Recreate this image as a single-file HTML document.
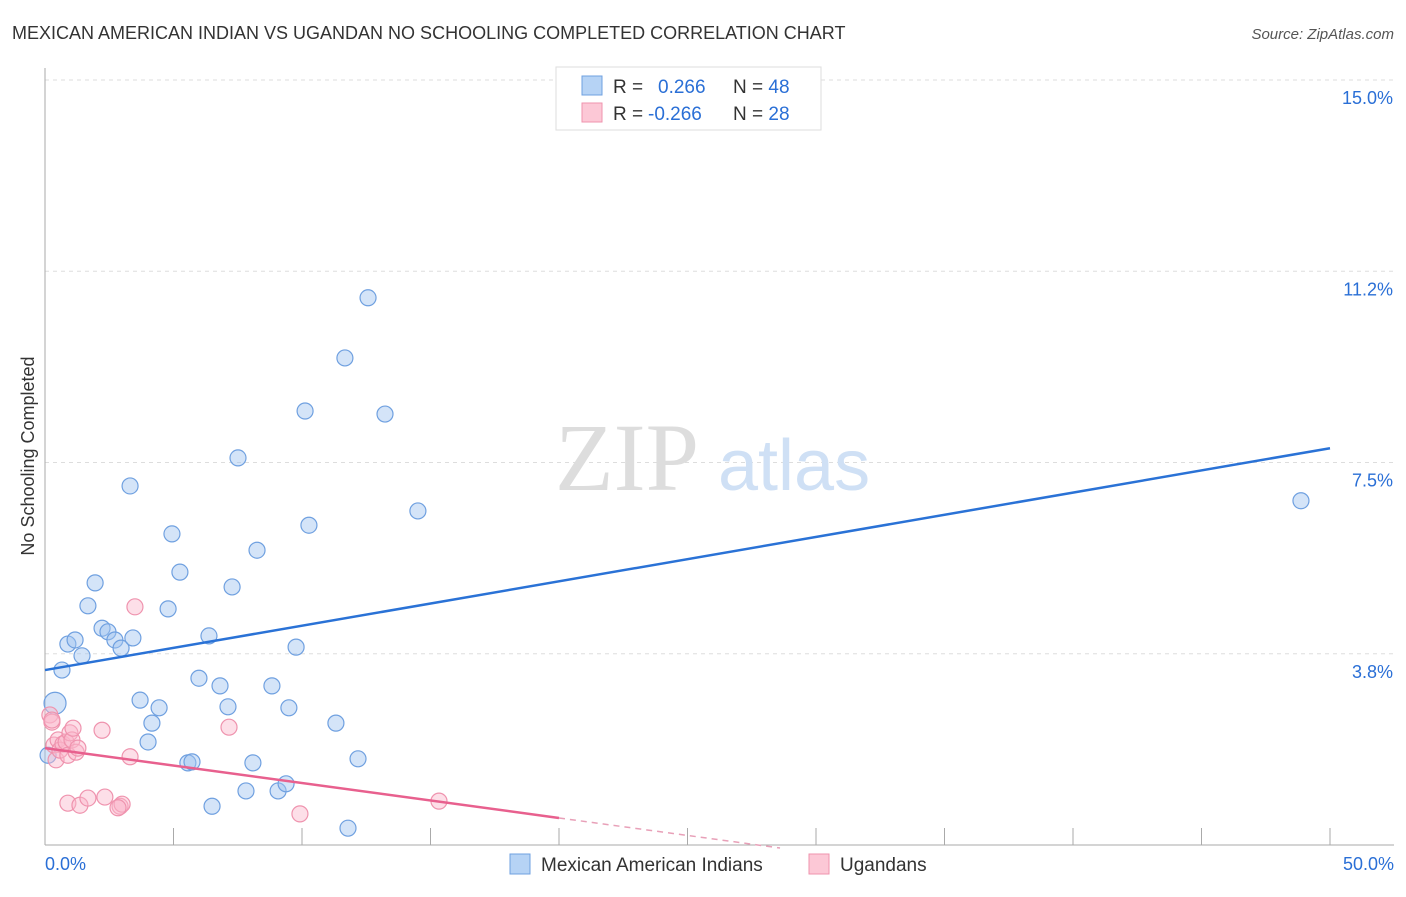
<!DOCTYPE html>
<html><head><meta charset="utf-8"><style>
body{margin:0;background:#fff;font-family:"Liberation Sans",sans-serif}
</style></head><body>
<svg width="1406" height="892" xmlns="http://www.w3.org/2000/svg">
<text x="12" y="39" font-size="18" fill="#333">MEXICAN AMERICAN INDIAN VS UGANDAN NO SCHOOLING COMPLETED CORRELATION CHART</text>
<text x="1394" y="39" font-size="15" fill="#555" text-anchor="end" font-style="italic">Source: ZipAtlas.com</text>
<g id="grid"></g>
<text x="555" y="490" font-size="96" fill="#ddd" font-family="Liberation Serif,serif">ZIP</text>
<text x="718" y="490" font-size="72" fill="#cfe0f5">atlas</text>
<text transform="translate(34,456) rotate(-90)" font-size="18" fill="#333" text-anchor="middle">No Schooling Completed</text>
<g id="marks"></g>
<g>
<rect x="556" y="67" width="265" height="63" fill="#fff" stroke="#ddd"/>
<rect x="582" y="76" width="20" height="19" fill="#b6d3f5" stroke="#6fa0e0"/>
<rect x="582" y="103" width="20" height="19" fill="#fcc8d6" stroke="#ef93ae"/>
<text x="613" y="93" font-size="19" fill="#333">R = <tspan fill="#2a6fd6" x="658">0.266</tspan><tspan x="733" fill="#333">N = </tspan><tspan fill="#2a6fd6">48</tspan></text>
<text x="613" y="120" font-size="19" fill="#333">R = <tspan fill="#2a6fd6" x="648">-0.266</tspan><tspan x="733" fill="#333">N = </tspan><tspan fill="#2a6fd6">28</tspan></text>
</g>
<g>
<rect x="510" y="854" width="20" height="20" fill="#b6d3f5" stroke="#6fa0e0"/>
<text x="541" y="871" font-size="19" fill="#333">Mexican American Indians</text>
<rect x="809" y="854" width="20" height="20" fill="#fcc8d6" stroke="#ef93ae"/>
<text x="840" y="871" font-size="19" fill="#333">Ugandans</text>
</g>
</svg>
<script>
const yTicks=[3.75,7.5,11.25,15];
const yTickLabels=["3.8%","7.5%","11.2%","15.0%"];
const xTickLabels=["0.0%","50.0%"];
const blueX=[0.39,0.66,0.89,1.17,1.44,1.67,1.95,2.22,2.45,2.72,2.96,3.31,3.42,3.70,4.01,4.16,4.44,4.79,4.94,5.25,5.56,5.72,5.99,6.38,6.50,6.81,7.12,7.28,7.51,7.82,8.09,8.25,8.83,9.07,9.38,9.49,9.77,10.12,10.27,11.32,11.67,11.79,12.18,12.57,13.23,14.51,48.87,0.12];
const blueY=[2.78,3.43,3.94,4.02,3.71,4.69,5.14,4.25,4.18,4.02,3.86,7.04,4.06,2.84,2.02,2.39,2.69,4.63,6.10,5.35,1.61,1.63,3.27,4.10,0.76,3.12,2.71,5.06,7.59,1.06,1.61,5.78,3.12,1.06,1.20,2.69,3.88,8.51,6.27,2.39,9.55,0.33,1.69,10.73,8.45,6.55,6.75,1.76];
const pinkX=[0.19,0.27,0.35,0.43,0.51,0.58,0.70,0.82,0.89,0.97,1.05,1.21,1.28,0.89,1.36,1.67,2.22,1.09,2.33,2.92,3.00,3.31,3.50,7.16,9.92,15.33,0.27,2.84];
const pinkY=[2.55,2.41,1.96,1.67,2.06,1.86,1.98,2.02,1.76,2.20,2.06,1.82,1.90,0.82,0.78,0.92,2.25,2.29,0.94,0.76,0.80,1.73,4.67,2.31,0.61,0.86,2.45,0.73];
const blueLine=[3.43,7.78];
const pinkLine=[1.90,0.53];
const pinkLineEnd=20, pinkDashEnd=28.6;
const NS="http://www.w3.org/2000/svg";
const sx=v=>45+v*25.7, sy=v=>845-v*51.0;
function mk(t,a,p){const e=document.createElementNS(NS,t);for(const k in a)e.setAttribute(k,a[k]);p.appendChild(e);return e;}
const g=document.getElementById('grid'), m=document.getElementById('marks');
yTicks.forEach((t,i)=>{
 const l=mk('line',{x1:45,x2:1394,y1:sy(t),y2:sy(t),stroke:'#ddd','stroke-dasharray':'4,4'},g);
 
 
 const tx=mk('text',{x:1393,y:sy(t)+24,'font-size':18,fill:'#2a6fd6','text-anchor':'end'},g);
 tx.textContent=yTickLabels[i];
 
 
});
const ya=mk('line',{x1:45,x2:45,y1:68,y2:845,stroke:'#aaa'},g);


const xa=mk('line',{x1:45,x2:1394,y1:845,y2:845,stroke:'#aaa'},g);


for(let i=0;i<=10;i++){const t=mk('line',{x1:sx(i*5),x2:sx(i*5),y1:828,y2:845,stroke:'#aaa'},g);
 
 }
[[0,'start',45],[50,'end',1394]].forEach((d,i)=>{const t=mk('text',{x:d[2],y:870,'font-size':18,fill:'#2a6fd6','text-anchor':d[1]},g);t.textContent=xTickLabels[i];
 
 });
blueX.forEach((x,i)=>{const c=mk('circle',{cx:sx(x),cy:sy(blueY[i]),r:i==0?11:8,fill:'rgba(160,196,240,0.45)',stroke:'#6fa0e0','stroke-width':1.2},m);
 
 });
pinkX.forEach((x,i)=>{const c=mk('circle',{cx:sx(x),cy:sy(pinkY[i]),r:8,fill:'rgba(250,185,205,0.45)',stroke:'#ef93ae','stroke-width':1.2},m);
 
 });
const bl=mk('line',{x1:sx(0),y1:sy(blueLine[0]),x2:sx(50),y2:sy(blueLine[1]),stroke:'#2a72d6','stroke-width':2.5},m);


const slope=(pinkLine[1]-pinkLine[0])/pinkLineEnd;
const pl=mk('line',{x1:sx(0),y1:sy(pinkLine[0]),x2:sx(pinkLineEnd),y2:sy(pinkLine[1]),stroke:'#e8608e','stroke-width':2.5},m);


const pd=mk('line',{x1:sx(pinkLineEnd),y1:sy(pinkLine[1]),x2:sx(pinkDashEnd),y2:sy(pinkLine[0]+slope*pinkDashEnd),stroke:'#e8a0b8','stroke-width':1.5,'stroke-dasharray':'6,5'},m);


</script>
</body></html>
